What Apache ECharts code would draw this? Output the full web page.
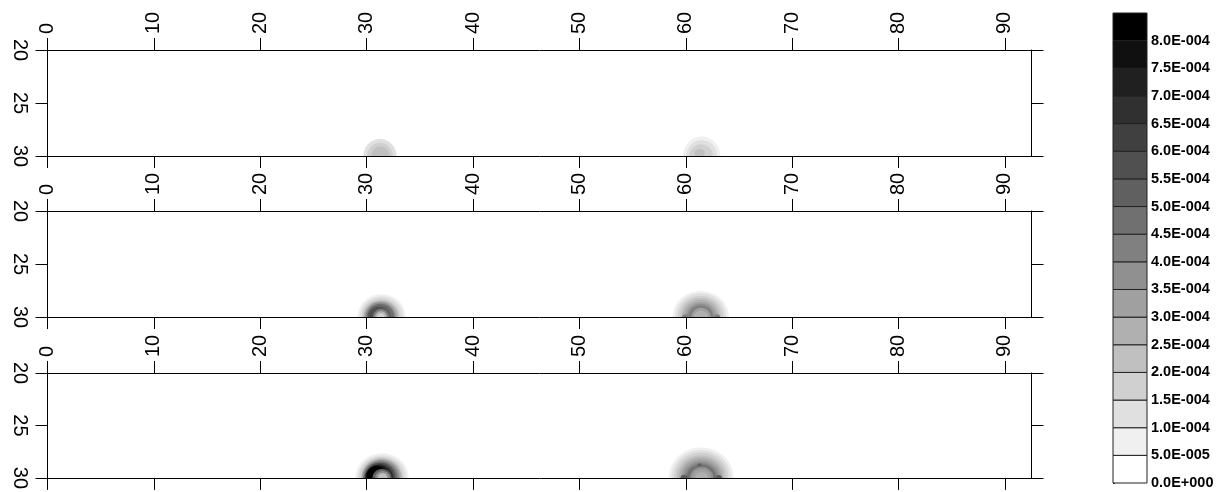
<!DOCTYPE html>
<html><head><meta charset="utf-8">
<script src="https://cdn.jsdelivr.net/npm/echarts@6/dist/echarts.min.js"></script>
<style>html,body{margin:0;padding:0;background:#fff}#c{width:1223px;height:492px}</style>
</head><body><div id="c"></div>
<script>
// ---------- data ----------
const xTicks = [0, 10, 20, 30, 40, 50, 60, 70, 80, 90];
const xMin = 0, xMax = 92.5;
const yTicks = [20, 25, 30];
const yMin = 20, yMax = 30;
// colour-bar level boundaries (lower bound of each band)
const levels = [0, 5e-5, 1e-4, 1.5e-4, 2e-4, 2.5e-4, 3e-4, 3.5e-4, 4e-4, 4.5e-4, 5e-4, 5.5e-4, 6e-4, 6.5e-4, 7e-4, 7.5e-4, 8e-4];
const levelTop = 8.5e-4;
const greys = ['#ffffff', '#f0f0f0', '#e0e0e0', '#d0d0d0', '#c0c0c0', '#b0b0b0', '#a0a0a0', '#909090', '#808080',
  '#707070', '#606060', '#505050', '#404040', '#303030', '#202020', '#101010', '#000000'];
// contour rings: [centre x, centre y, half-width x, half-height y, concentration]
const panel1Contours = [
  [31.25, 30, 1.55, 1.6, 1.25e-4], [31.25, 30, 1.2, 1.25, 1.75e-4], [31.3, 30, 0.85, 0.9, 2.25e-4],
  [61.5, 30, 1.75, 1.85, 7.5e-5], [61.5, 30, 1.45, 1.5, 1.25e-4], [61.45, 30, 1.1, 1.1, 1.75e-4], [61.3, 29.7, 0.5, 0.35, 2.25e-4]
];
const panel2Contours = [
  [31.4, 30, 2.25, 2.15, 7.5e-5], [31.4, 30, 2.05, 1.95, 1.25e-4], [31.35, 30, 1.85, 1.75, 1.75e-4], [31.35, 30, 1.65, 1.55, 2.75e-4],
  [31.3, 30, 1.45, 1.4, 3.75e-4], [31.3, 30, 1.3, 1.25, 4.75e-4], [31.2, 30, 1.1, 1.1, 5.25e-4], [31.1, 30, 0.95, 0.95, 5.75e-4],
  [31.35, 30, 0.75, 0.75, 4.25e-4], [31.35, 30, 0.55, 0.55, 2.75e-4], [31.35, 30, 0.35, 0.35, 1.75e-4],
  [61.4, 30, 2.65, 2.45, 7.5e-5], [61.4, 30, 2.4, 2.25, 1.25e-4], [61.4, 30, 2.15, 2.0, 1.75e-4], [61.4, 30, 1.9, 1.8, 2.25e-4],
  [61.4, 30, 1.7, 1.6, 2.75e-4], [61.4, 30, 1.5, 1.4, 3.25e-4], [61.4, 30, 1.3, 1.25, 3.75e-4], [61.4, 30, 1.15, 1.1, 4.25e-4],
  [61.45, 30, 0.9, 0.85, 3.25e-4], [61.45, 30, 0.65, 0.6, 2.75e-4],
  [59.95, 30, 0.3, 0.25, 4.25e-4], [62.95, 30, 0.28, 0.25, 4.25e-4]
];
const panel3Contours = [
  [31.45, 30, 2.5, 2.35, 7.5e-5], [31.45, 30, 2.3, 2.15, 1.25e-4], [31.4, 30, 2.1, 2.0, 1.75e-4], [31.4, 30, 1.9, 1.85, 2.75e-4],
  [31.35, 30, 1.75, 1.7, 3.75e-4], [31.3, 30, 1.6, 1.55, 4.75e-4], [31.25, 30, 1.45, 1.45, 5.75e-4], [31.2, 30, 1.3, 1.3, 6.75e-4],
  [31.05, 30, 1.15, 1.2, 7.75e-4], [30.9, 30, 0.95, 1.1, 8.25e-4],
  [31.45, 30, 0.9, 0.85, 5.25e-4], [31.5, 30, 0.7, 0.65, 3.75e-4], [31.5, 30, 0.45, 0.45, 2.25e-4],
  [61.45, 30, 3.05, 2.9, 7.5e-5], [61.45, 30, 2.8, 2.65, 1.25e-4], [61.45, 30, 2.55, 2.4, 1.75e-4], [61.45, 30, 2.3, 2.15, 2.25e-4],
  [61.45, 30, 2.1, 1.95, 2.75e-4], [61.45, 30, 1.9, 1.75, 3.25e-4], [61.45, 30, 1.7, 1.55, 3.75e-4], [61.45, 30, 1.5, 1.4, 4.25e-4],
  [61.45, 30, 1.35, 1.25, 4.75e-4],
  [61.5, 30, 1.1, 1.05, 3.75e-4], [61.5, 30, 0.9, 0.85, 3.25e-4], [61.5, 30, 0.6, 0.55, 2.75e-4],
  [59.85, 30, 0.35, 0.3, 5.25e-4], [63.1, 30, 0.32, 0.28, 5.25e-4], [61.3, 28.75, 0.18, 0.14, 5.25e-4]
];
const panels = [panel1Contours, panel2Contours, panel3Contours];

// ---------- layout ----------
const FONT = 'Liberation Sans, Arial, sans-serif';
const gridTops = [50, 211, 373];
const plotLeft = 47.5, plotWidth = 984, plotHeight = 106;

function sci(v) {
  if (Math.abs(v) < 1e-12) return '0.0E+000';
  let e = Math.floor(Math.log10(Math.abs(v)) + 1e-9);
  let m = v / Math.pow(10, e);
  if (Math.round(m * 10) / 10 >= 10) { m /= 10; e += 1; }
  return m.toFixed(1) + 'E' + (e < 0 ? '-' : '+') + String(Math.abs(e)).padStart(3, '0');
}

const pieces = levels.map((lo, i) => ({ gte: lo, lt: i + 1 < levels.length ? levels[i + 1] : levelTop + 1e-9, color: greys[i] }));

const grid = [], xAxis = [], yAxis = [], series = [];
const lineStyle = { color: '#000', width: 1 };
gridTops.forEach((top, p) => {
  grid.push({ left: plotLeft, top: top, width: plotWidth, height: plotHeight });
  const common = { type: 'value', gridIndex: p, min: xMin, max: xMax, interval: 10, z: 5,
    axisLine: { show: true, onZero: false, lineStyle },
    axisTick: { show: true, length: 12, customValues: xTicks, lineStyle },
    splitLine: { show: false } };
  xAxis.push(Object.assign({}, common, { position: 'top',
    axisLabel: { show: true, customValues: xTicks, rotate: -90, margin: 16, fontSize: 20, fontFamily: FONT, color: '#000' } }));
  xAxis.push(Object.assign({}, common, { position: 'bottom', axisLabel: { show: false } }));
  const ycommon = { type: 'value', gridIndex: p, min: yMin, max: yMax, interval: 5, inverse: true, z: 5,
    axisLine: { show: true, onZero: false, lineStyle },
    axisTick: { show: true, length: 12, customValues: yTicks, lineStyle },
    splitLine: { show: false } };
  yAxis.push(Object.assign({}, ycommon, { position: 'left',
    axisLabel: { show: true, customValues: yTicks, rotate: -90, margin: 18, fontSize: 20, fontFamily: FONT, color: '#000' } }));
  yAxis.push(Object.assign({}, ycommon, { position: 'right', axisLabel: { show: false } }));
  series.push({
    type: 'custom', xAxisIndex: 2 * p, yAxisIndex: 2 * p, clip: true, z: 2,
    dimensions: ['x', 'y', 'rx', 'ry', 'c'],
    data: panels[p],
    renderItem: function (params, api) {
      const cx = api.value(0), cy = api.value(1);
      const c = api.coord([cx, cy]);
      const s = api.size([api.value(2), api.value(3)], [cx, cy]);
      const pts = [];
      for (let k = 0; k < 72; k++) {
        const a = k / 72 * Math.PI * 2;
        pts.push([c[0] + s[0] * Math.cos(a), c[1] + s[1] * Math.sin(a)]);
      }
      return { type: 'polygon', shape: { points: pts }, style: { fill: api.visual('color') } };
    }
  });
});

// colour bar
grid.push({ left: 1113, top: 13, width: 34, height: 470 });
xAxis.push({ type: 'value', gridIndex: 3, min: 0, max: 1, show: false });
yAxis.push({ type: 'value', gridIndex: 3, min: 0, max: levelTop, interval: 5e-5, position: 'right',
  axisLine: { show: false }, splitLine: { show: false },
  axisTick: { show: true, length: 2, customValues: levels, lineStyle: { color: '#222', width: 1 } },
  axisLabel: { show: true, customValues: levels, margin: 4, fontSize: 14.5, fontWeight: 'bold', fontFamily: FONT, color: '#000',
    formatter: v => sci(v) } });
series.push({
  type: 'custom', xAxisIndex: 6, yAxisIndex: 6, z: 2,
  data: levels.map((lo, i) => [lo, i + 1 < levels.length ? levels[i + 1] : levelTop]),
  renderItem: function (params, api) {
    const p0 = api.coord([0, api.value(0)]);
    const p1 = api.coord([1, api.value(1)]);
    return { type: 'rect', shape: { x: p0[0], y: p1[1], width: p1[0] - p0[0], height: p0[1] - p1[1] },
      style: { fill: api.visual('color'), stroke: '#222', lineWidth: 1 } };
  }
});

const chart = echarts.init(document.getElementById('c'), null, { renderer: 'canvas' });
chart.setOption({
  animation: false,
  backgroundColor: '#fff',
  grid, xAxis, yAxis, series,
  visualMap: [
    { type: 'piecewise', show: false, seriesIndex: [0, 1, 2], dimension: 4, pieces },
    { type: 'piecewise', show: false, seriesIndex: [3], dimension: 0, pieces }
  ]
});
</script></body></html>
